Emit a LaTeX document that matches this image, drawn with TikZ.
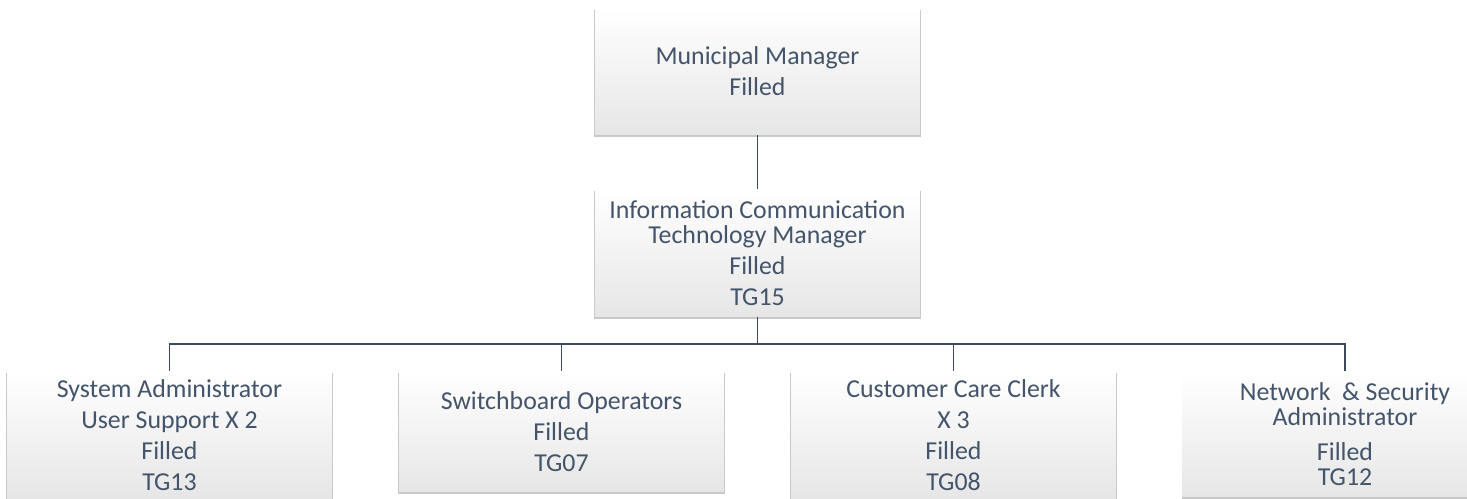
\documentclass[tikz,border=0pt]{standalone}
\usepackage{fontspec}
\setmainfont{Carlito}
\usepackage{xcolor}
\usepackage{tikz}
\usetikzlibrary{positioning, shadows, calc}
\definecolor{officetext}{HTML}{44546A}
\definecolor{linkline}{HTML}{3B4A5F}
\definecolor{postfade}{HTML}{E6E6E6}
\tikzset{
  post/.style={minimum width=6.5cm, minimum height=2.54cm, inner sep=2pt, align=center,
    top color=white, middle color=white, bottom color=postfade, text=officetext,
    font=\fontsize{14.7pt}{17.6pt}\selectfont,
    general shadow={fill=black!30, shadow yshift=-1.2pt, shadow scale=1.006, opacity=0.7}},
  link/.style={draw=linkline, line width=1pt},
}

\begin{document}
\begin{tikzpicture}[x=0.02cm, y=-0.02cm]
  \useasboundingbox (0,0) rectangle (1467,499);
  \clip (0,0) rectangle (1467,499);
  % top of the chart
  \node[post] (mm) at (757.5,71.5) {Municipal Manager\\Filled};
  \node[post] (ict) at (757.5,253) {Information Communication\\[-3.6pt]Technology Manager\\Filled\\TG15};
  \coordinate (bus) at (0,344);
  % sections under ICT
  \node[post, minimum height=2.56cm] (sysadm) at (169.5,435) {System Administrator\\User Support X 2\\Filled\\TG13};
  \node[post, minimum height=2.42cm] (switch) at (561.5,431.5) {Switchboard Operators\\Filled\\TG07};
  \node[post, minimum height=2.56cm] (care) at (953.5,435) {Customer Care Clerk\\X 3\\Filled\\TG08};
  \node[post, minimum height=2.52cm] (netsec) at (1345,434) {Network\ \ \& Security\\[-3.6pt]Administrator\\[2.6pt]Filled\\[-3.8pt]TG12};
  \draw[link] (mm) -- (ict);
  \draw[link] (ict.south) -- (ict.south |- bus);
  \foreach \unit in {sysadm, switch, care, netsec}
    \draw[link] (ict.south |- bus) -| (\unit.north);
\end{tikzpicture}
\end{document}
